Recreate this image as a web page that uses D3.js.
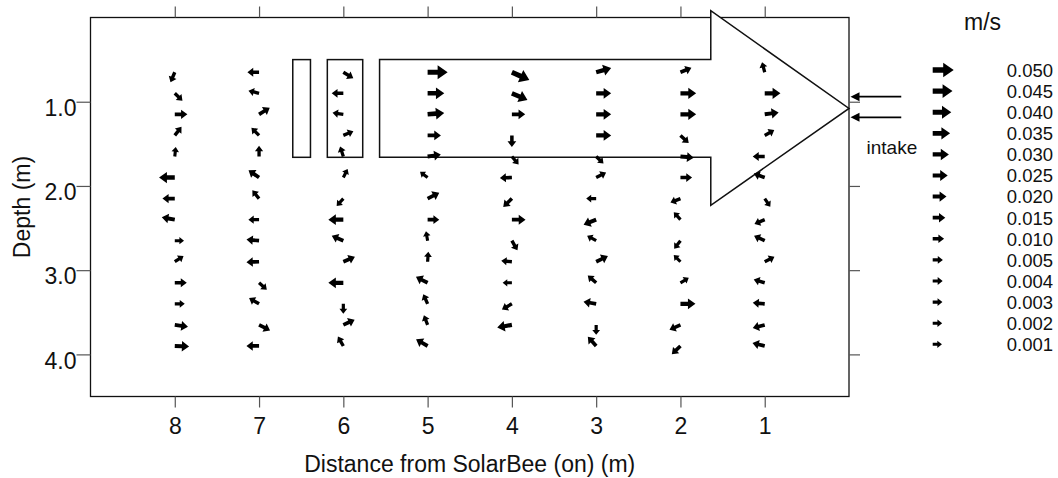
<!DOCTYPE html>
<html>
<head>
<meta charset="utf-8">
<script src="https://cdn.jsdelivr.net/npm/d3@7/dist/d3.min.js"></script>
<style>
  body { margin: 0; background: #fff; }
  svg { display: block; font-family: "Liberation Sans", Arial, sans-serif; }
</style>
</head>
<body>
<svg id="chart" width="1058" height="478"></svg>
<script>
// stations (m from SolarBee) and measurement depths (m)
var stations = [8, 7, 6, 5, 4, 3, 2, 1];
var depths = [0.65, 0.9, 1.15, 1.4, 1.65, 1.9, 2.15, 2.4, 2.65, 2.9, 3.15, 3.4, 3.65, 3.9];

// [speed m/s, direction deg (0 = toward SolarBee, 90 = up)], top to bottom
var col8 = [[0.008,-113],[0.007,-44],[0.015,0],[0.008,52],[0.002,84],
            [0.028,180],[0.014,180],[0.0175,170],[0.001,0],[0.006,33],
            [0.0125,0],[0.004,0],[0.018,-8],[0.022,-2]];
var col7 = [[0.011,180],[0.008,166],[0.015,32],[0.0075,135],[0.007,90],
            [0.016,145],[0.007,129],[0.007,180],[0.015,175],[0.015,182],
            [0.006,-42],[0.0105,150],[0.014,-27],[0.015,180]];
var col6 = [[0.011,-31],[0.011,180],[0.008,172],[0.008,23],[0.006,108],
            [0.002,63],[0.004,-132],[0.025,180],[0.015,157],[0.015,23],
            [0.025,180],[0.004,-90],[0.0145,25],[0.0075,120]];
var col5 = [[0.046,0],[0.032,0],[0.032,5],[0.018,0],[0.018,8],
            [0.002,143],[0.017,27],[0.011,0],[0.002,100],[0.004,86],
            [0.017,153],[0.0067,114],[0.0055,111],[0.018,150]];
var col4 = [[0.042,-24],[0.033,-23],[0.018,0],[0.011,-90],[0.006,-50],
            [0.0125,182],[0.0125,-136],[0.0195,0],[0.009,-60],[0.007,175],
            [0.001,180],[0.0105,-150],[0.0245,-170]];
var col3 = [[0.0275,16],[0.025,0],[0.025,0],[0.025,0],[0.005,-44],
            [0.009,27],[0.004,180],[0.019,-158],[0.0055,151],[0.017,26],
            [0.009,139],[0.016,170],[0.004,-90],[0.0145,132]];
var col2 = [[0.0118,22],[0.028,0],[0.028,0],[0.0096,-43],[0.018,-5],
            [0.011,0],[0.0075,-158],[0.004,132],[0.005,-128],[0.002,135],
            [0.003,31],[0.025,0],[0.0125,-156],[0.0125,-136]];
var col1 = [[0.0055,105],[0.028,0],[0.021,8],[0.008,29],[0.0125,180],
            [0.011,160],[0.004,-56],[0.009,-157],[0.0115,155],[0.008,27],
            [0.0105,163],[0.0125,175],[0.014,-165],[0.015,166]];

var xTicks = [8, 7, 6, 5, 4, 3, 2, 1];
var yTicks = [1, 2, 3, 4];
var legendSpeeds = [0.050, 0.045, 0.040, 0.035, 0.030, 0.025, 0.020,
                    0.015, 0.010, 0.005, 0.004, 0.003, 0.002, 0.001];

// SolarBee outline + baffles, in data units (m)
var beeOutline = [[5.57,0.5],[1.64,0.5],[1.64,-0.08],[0,1.08],[1.64,2.23],[1.64,1.66],[5.57,1.66]];
var baffles = [[6.6, 6.39], [6.19, 5.77]];
var intakeDepths = [0.94, 1.185];

var svg = d3.select("#chart");
var x = d3.scaleLinear().domain([9, 0]).range([90.5, 849]);
var y = d3.scaleLinear().domain([0, 4.5]).range([17.5, 396.5]);
var len = d3.scaleLinear().domain([0, 0.05]).range([9, 21]);

function arrowPath(L) {
  var hl = 0.5 * L, hw = 0.3 * L + 0.9, sw = 0.1 * L + 0.6;
  var b = L - hl;
  return "M0," + (-sw) + "L" + b + "," + (-sw) + "L" + b + "," + (-hw) +
         "L" + L + ",0L" + b + "," + hw + "L" + b + "," + sw + "L0," + sw + "Z";
}

// frame
svg.append("rect")
  .attr("x", x(9)).attr("y", y(0))
  .attr("width", x(0) - x(9)).attr("height", y(4.5) - y(0))
  .attr("fill", "none").attr("stroke", "#111").attr("stroke-width", 1.3);

// axes (ticks on all four sides, labels bottom / left)
function styleAxis(g) {
  g.select(".domain").remove();
  g.selectAll(".tick line").attr("stroke", "#555").attr("stroke-width", 1.2);
  g.selectAll("text").attr("font-size", 23).attr("fill", "#111")
    .attr("font-family", "Liberation Sans, Arial, sans-serif");
}
svg.append("g").attr("transform", "translate(0," + y(4.5) + ")")
  .call(d3.axisBottom(x).tickValues(xTicks).tickFormat(d3.format("d")).tickSize(11).tickPadding(10))
  .call(styleAxis);
svg.append("g").attr("transform", "translate(0," + y(0) + ")")
  .call(d3.axisTop(x).tickValues(xTicks).tickFormat("").tickSize(11))
  .call(styleAxis);
var yAxisG = svg.append("g").attr("transform", "translate(" + x(9) + ",0)")
  .call(d3.axisLeft(y).tickValues(yTicks).tickFormat(d3.format(".1f")).tickSize(14).tickPadding(0))
  .call(styleAxis);
yAxisG.selectAll("text").attr("dy", "0.6em");
svg.append("g").attr("transform", "translate(" + x(0) + ",0)")
  .call(d3.axisRight(y).tickValues(yTicks).tickFormat("").tickSize(11))
  .call(styleAxis);

// axis titles
svg.append("text").attr("x", (x(9) + x(0)) / 2).attr("y", 472)
  .attr("text-anchor", "middle").attr("font-size", 23).attr("fill", "#111")
  .text("Distance from SolarBee (on) (m)");
svg.append("text")
  .attr("transform", "translate(30," + (y(0) + y(4.5)) / 2 + ") rotate(-90)")
  .attr("text-anchor", "middle").attr("font-size", 23).attr("fill", "#111")
  .text("Depth (m)");

// SolarBee shape and baffles (white fill hides frame line under the head)
var line = d3.line().x(function(d) { return x(d[0]); }).y(function(d) { return y(d[1]); });
svg.append("path").attr("d", line(beeOutline) + "Z")
  .attr("fill", "#fff").attr("stroke", "#111").attr("stroke-width", 1.5);
svg.selectAll(".baffle").data(baffles).enter().append("rect")
  .attr("class", "baffle")
  .attr("x", function(d) { return x(d[0]); })
  .attr("y", y(0.5))
  .attr("width", function(d) { return x(d[1]) - x(d[0]); })
  .attr("height", y(1.66) - y(0.5))
  .attr("fill", "#fff").attr("stroke", "#111").attr("stroke-width", 1.5);

// velocity vectors, tail at the measurement point
var cols = [col8, col7, col6, col5, col4, col3, col2, col1];
var vecs = [];
cols.forEach(function(col, i) {
  col.forEach(function(v, j) {
    vecs.push({ st: stations[i], depth: depths[j], speed: v[0], dir: v[1] });
  });
});
svg.append("g").selectAll("path").data(vecs).enter().append("path")
  .attr("d", function(d) { return arrowPath(len(d.speed)); })
  .attr("transform", function(d) {
    return "translate(" + x(d.st) + "," + y(d.depth) + ") rotate(" + (-d.dir) + ")";
  })
  .attr("fill", "#000");

// intake arrows
var intake = svg.append("g");
intakeDepths.forEach(function(dp) {
  var yy = y(dp), tip = x(0) + 1.5;
  intake.append("line").attr("x1", x(-0.62)).attr("x2", tip + 6)
    .attr("y1", yy).attr("y2", yy).attr("stroke", "#000").attr("stroke-width", 1.8);
  intake.append("path")
    .attr("d", "M" + tip + "," + yy + "l9,-4.5l0,9Z").attr("fill", "#000");
});
svg.append("text").attr("x", 866.5).attr("y", 154).attr("font-size", 19).attr("fill", "#111")
  .text("intake");

// legend
svg.append("text").attr("x", 982.5).attr("y", 30).attr("text-anchor", "middle")
  .attr("font-size", 23).attr("fill", "#111").text("m/s");
var ly = d3.scalePoint().domain(legendSpeeds).range([70, 344.3]);
var leg = svg.append("g").selectAll("g").data(legendSpeeds).enter().append("g")
  .attr("transform", function(d) { return "translate(0," + ly(d) + ")"; });
leg.append("path")
  .attr("d", function(d) { return arrowPath(len(d)); })
  .attr("transform", "translate(932.7,0)")
  .attr("fill", "#000");
leg.append("text").attr("x", 1053).attr("y", 6.8).attr("text-anchor", "end")
  .attr("font-size", 18.5).attr("fill", "#111")
  .text(function(d) { return d3.format(".3f")(d); });
</script>
</body>
</html>
